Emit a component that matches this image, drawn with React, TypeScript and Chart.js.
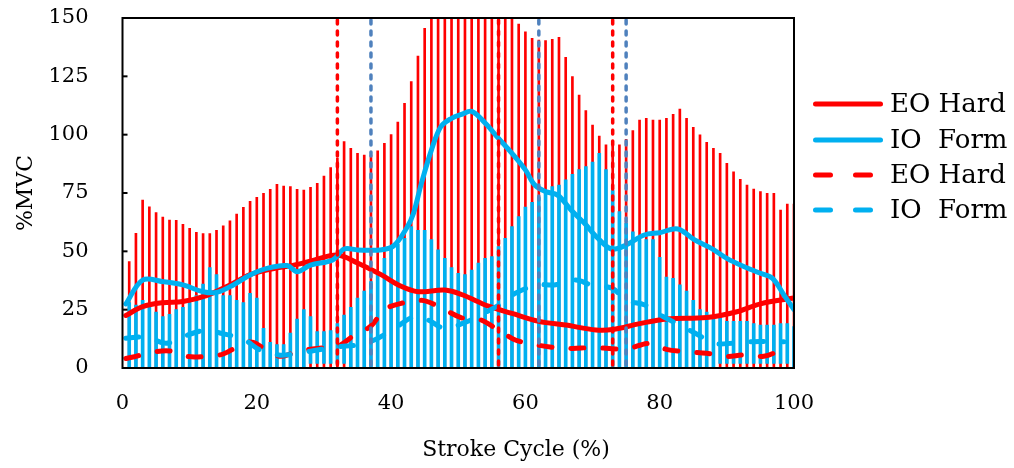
import React, { useEffect, useRef } from 'react';
import { Chart, registerables } from 'chart.js';

Chart.register(...registerables);

const FONT = '"DejaVu Serif", "Liberation Serif", serif';
const RED = '#FF0000';
const CYAN = '#00B0F0';
const MARK_BLUE = '#4F81BD';
const CLEAR = 'rgba(0,0,0,0)';

// Legend / series names
const seriesNames = ['EO Hard', 'IO  Form', 'EO Hard', 'IO  Form'];
const xTitle = 'Stroke Cycle (%)';
const yTitle = '%MVC';
const yTickValues = [0, 25, 50, 75, 100, 125, 150];

// EO Hard (solid)
const eoSolidX = [0.5, 3, 6, 9, 12.5, 16, 19, 22, 25.5, 28.5, 32, 35, 38.5, 41.5, 44, 48, 50.5, 54.5, 58, 62, 66, 70.5, 73, 77, 81, 87, 91.5, 95, 100];
const eoSolidY = [22.5, 26.3, 28, 28.5, 31, 35.6, 40, 42.3, 44.1, 46.2, 48.4, 45, 40, 35, 32.7, 33.4, 31.5, 26.5, 23.4, 20, 18.4, 16.3, 16.5, 19, 21, 21.6, 24.1, 27.5, 30];

// IO Form (solid)
const ioSolidX = [0.5, 3, 6, 9, 12, 14, 16.5, 19, 21.5, 24.5, 26, 28, 31.3, 33, 35, 38.4, 40.4, 42.3, 43.3, 44.5, 46, 47.4, 49, 50.5, 52, 54, 56, 58, 60, 61.4, 63, 64.8, 66.8, 68.8, 70.8, 72.8, 75, 77.7, 80, 82.7, 85.2, 87.7, 90, 92.6, 95, 96.8, 98.5, 100];
const ioSolidY = [27.5, 37.7, 37, 35.6, 32.7, 32.4, 35.6, 39.9, 42.7, 43.9, 41.3, 44.1, 46.3, 51, 50.6, 50.6, 52.4, 59.9, 66, 79, 93.4, 103.4, 107, 108.7, 110, 105, 98.4, 92, 84.9, 78.4, 75.6, 74.1, 67.7, 62, 55.6, 51, 52.7, 57, 58, 59.6, 54.9, 51.3, 47, 43.4, 40.6, 38.4, 31.3, 25];

// EO Hard (dashed)
const eoDashX = [0.5, 2, 4, 7, 9.5, 12.5, 15, 18, 19.5, 21, 23.5, 26, 29, 32, 34.5, 37, 39, 41.5, 44.5, 47, 50.5, 53, 56, 58.5, 61.5, 64, 67, 69.5, 72.5, 75, 78.5, 81, 84, 87, 90, 92.5, 95.5, 98.5];
const eoDashY = [4.1, 5, 6.5, 7.3, 5, 5, 6, 10.5, 11, 8.5, 5, 7, 8.4, 9.2, 14, 18, 25, 27.7, 29, 26.5, 21.5, 21, 16.3, 12, 10, 8.9, 8.4, 8.7, 8.4, 8.1, 10.6, 8, 7, 6.3, 4.9, 5.6, 5, 8.4];

// IO Form (dashed)
const ioDashX = [0.5, 3.5, 6.5, 9, 12.5, 14.5, 18, 20.5, 23.5, 26, 29, 32, 35, 37.5, 40.5, 43.5, 45.5, 48, 51.3, 53.3, 56.5, 58.5, 61.7, 64.3, 67.5, 69.8, 73, 74.9, 77.8, 80.1, 83, 85.3, 88.2, 90.8, 94, 96.6, 98.5];
const ioDashY = [12.7, 13.3, 10.6, 13.4, 16.3, 15, 12.3, 7.7, 5.5, 6.3, 7.7, 9.1, 9.9, 12, 17, 22, 20.6, 17, 19.9, 22.7, 27.7, 32, 35.6, 35.6, 37.7, 35.6, 34.1, 29.1, 27, 22.7, 18.4, 14.9, 10.6, 10.6, 11.3, 11.3, 11.3];

// Error bars at 1..100 % (EO Hard, red: 0 -> top)
const redTop = [45.6, 57.7, 72, 69.1, 66.6, 64.7, 63.4, 63.3, 61.6, 59.9,
  58.1, 57.6, 57.6, 59, 60.9, 63.1, 66, 68.9, 71.4, 73.1,
  74.9, 76.6, 78.7, 78, 77.7, 76.6, 76.3, 77.4, 79.1, 82.3,
  85.9, 90, 97, 94.1, 92, 91.3, 91, 93.1, 96.3, 100,
  105.4, 113.4, 122.7, 133.7, 145.6, 155, 160, 165, 168, 170,
  172, 172, 170, 168, 165, 162, 158, 153, 147.4, 144.1,
  141.3, 140.5, 140.3, 140.9, 141.7, 133.1, 124.9, 117, 110.3, 104.1,
  99.4, 95.6, 95, 95.6, 98, 101.7, 106.3, 107, 106.3, 106.3,
  107, 108.7, 111, 107, 103.1, 99.9, 96.7, 94.1, 92, 87.7,
  84.1, 80.9, 78.4, 76.7, 75.6, 74.9, 74.9, 67.7, 70.3, 70.3];

// Error bars (IO Form, cyan: low -> top)
const blueTop = [28, 27, 29, 27, 24, 22, 23, 25, 26, 28,
  31, 36, 43, 40, 31, 31, 29, 28, 32, 30,
  17, 11, 10, 10, 15, 21, 25, 22, 15.6, 15.6,
  16, 19, 22.7, 26, 30, 33, 37, 40, 47, 51,
  53, 55.6, 60.6, 59, 59, 55, 50.6, 47, 43, 40.6,
  40, 42, 45, 47, 47.7, 52, 55.6, 60.6, 64.9, 69,
  71, 73, 76, 77.7, 78.4, 80.6, 83, 85, 86.3, 88.2,
  92, 85, 76, 67, 62, 58.4, 55, 55, 55, 47.4,
  39, 38.4, 35.6, 33, 29, 25, 24, 22, 22, 20,
  20, 20, 20, 19, 18.4, 18.4, 18.4, 19, 19, 17.7];
const blueLow = [0, 0, 0, 0, 0, 0, 0, 0, 0, 0,
  0, 0, 0, 0, 0, 0, 0, 0, 0, 0,
  0, 0, 0, 0, 0, 0, 0, 2, 2, 2,
  2, 2, 2, 0, 0, 0, 0, 0, 0, 0,
  0, 0, 0, 0, 0, 0, 0, 0, 0, 0,
  0, 0, 0, 0, 0, 0, 0, 0, 0, 0,
  0, 0, 0, 0, 0, 0, 0, 0, 0, 0,
  0, 0, 0, 0, 0, 0, 0, 0, 0, 0,
  0, 0, 0, 0, 0, 0, 0, 0, 2, 2,
  2, 2, 2, 2, 2, 2, 2, 2, 2, 0];
const barX = redTop.map((_, i) => i + 1);

// Phase markers (vertical dashed lines)
const eoMarkers = [32, 56, 73];
const ioMarkers = [37, 62, 75];

const pts = (xs: number[], ys: number[]) => xs.map((x, i) => ({ x, y: ys[i] }));

const decorPlugin = {
  id: 'decor',
  afterDatasetsDraw(chart: any) {
    const { ctx, chartArea: a, scales } = chart;
    const xs = scales.x;
    const ys = scales.y;
    ctx.save();
    // vertical dashed phase markers
    ctx.lineWidth = 3.5;
    ctx.lineCap = 'round';
    ctx.setLineDash([4, 7]);
    const groups: [number[], string][] = [[eoMarkers, RED], [ioMarkers, MARK_BLUE]];
    for (const [vals, color] of groups) {
      ctx.strokeStyle = color;
      for (const v of vals) {
        const px = xs.getPixelForValue(v);
        ctx.beginPath();
        ctx.moveTo(px, a.top + 2);
        ctx.lineTo(px, a.bottom + 3);
        ctx.stroke();
      }
    }
    ctx.setLineDash([]);
    ctx.lineCap = 'butt';
    // frame
    ctx.strokeStyle = '#000';
    ctx.lineWidth = 2;
    ctx.strokeRect(a.left, a.top, a.right - a.left, a.bottom - a.top);
    // inward y tick marks
    for (const v of yTickValues) {
      const py = ys.getPixelForValue(v);
      ctx.beginPath();
      ctx.moveTo(a.left, py);
      ctx.lineTo(a.left + 5, py);
      ctx.stroke();
    }
    ctx.restore();
  },
  afterDraw(chart: any) {
    const { ctx } = chart;
    ctx.save();
    // x-axis title
    ctx.fillStyle = '#000';
    ctx.font = `22px ${FONT}`;
    ctx.textAlign = 'center';
    ctx.textBaseline = 'middle';
    ctx.fillText(xTitle, 516, 450);
    // legend
    const rows = [104, 140, 175, 210];
    const items = [
      { label: seriesNames[0], color: RED, dash: false },
      { label: seriesNames[1], color: CYAN, dash: false },
      { label: seriesNames[2], color: RED, dash: true },
      { label: seriesNames[3], color: CYAN, dash: true },
    ];
    items.forEach((it, i) => {
      const yRow = rows[i];
      ctx.strokeStyle = it.color;
      ctx.lineWidth = 5;
      ctx.lineCap = 'round';
      ctx.setLineDash(it.dash ? [15, 25] : []);
      ctx.beginPath();
      ctx.moveTo(815.5, yRow);
      ctx.lineTo(880.5, yRow);
      ctx.stroke();
      ctx.setLineDash([]);
      ctx.fillStyle = '#000';
      ctx.font = `26px ${FONT}`;
      ctx.textAlign = 'left';
      ctx.textBaseline = 'middle';
      ctx.fillText(it.label, 890, yRow + 1);
    });
    ctx.restore();
  },
};

export default function App() {
  const ref = useRef<HTMLCanvasElement | null>(null);

  useEffect(() => {
    document.body.style.margin = '0';
    const canvas = ref.current;
    if (!canvas) return;
    const tickFont = { family: FONT, size: 21, weight: 'normal' as const };
    const lineCommon = {
      type: 'line' as const,
      pointRadius: 0,
      borderWidth: 5,
      tension: 0.35,
      fill: false,
      borderCapStyle: 'round' as const,
      borderJoinStyle: 'round' as const,
    };
    const chart = new Chart(canvas, {
      type: 'bar',
      data: {
        datasets: [
          { ...lineCommon, label: seriesNames[3], data: pts(ioDashX, ioDashY), borderColor: CYAN, backgroundColor: CYAN, borderDash: [13, 19], order: 1 },
          { ...lineCommon, label: seriesNames[2], data: pts(eoDashX, eoDashY), borderColor: RED, backgroundColor: RED, borderDash: [13, 19], order: 2 },
          { ...lineCommon, label: seriesNames[1], data: pts(ioSolidX, ioSolidY), borderColor: CYAN, backgroundColor: CYAN, order: 3 },
          { ...lineCommon, label: seriesNames[0], data: pts(eoSolidX, eoSolidY), borderColor: RED, backgroundColor: RED, order: 4 },
          {
            type: 'bar' as const,
            label: 'IO SD',
            data: barX.map((x, i) => ({ x, y: [blueLow[i], blueTop[i]] })) as any,
            backgroundColor: CYAN,
            borderWidth: 0,
            barThickness: 3,
            grouped: false,
            order: 5,
            clip: 0 as any,
          },
          {
            type: 'bar' as const,
            label: 'EO SD',
            data: barX.map((x, i) => ({ x, y: [0, redTop[i]] })) as any,
            backgroundColor: RED,
            borderWidth: 0,
            barThickness: 2,
            grouped: false,
            order: 6,
            clip: 0 as any,
          },
        ] as any,
      },
      options: {
        animation: false,
        responsive: false,
        maintainAspectRatio: false,
        events: [],
        layout: { padding: { top: 18, right: 220, left: 0, bottom: 0 } },
        plugins: {
          legend: { display: false },
          tooltip: { enabled: false },
          title: { display: false },
        },
        scales: {
          x: {
            type: 'linear',
            min: 0,
            max: 100,
            offset: false,
            grid: { display: true, drawOnChartArea: false, drawTicks: true, tickLength: 23, tickColor: CLEAR, color: CLEAR, offset: false },
            border: { display: false },
            ticks: { stepSize: 20, padding: 0, font: tickFont, color: '#000', maxRotation: 0, autoSkip: false },
            afterFit: (s: any) => { s.height = 100; },
          },
          y: {
            type: 'linear',
            min: 0,
            max: 150,
            grid: { display: true, drawOnChartArea: false, drawTicks: true, tickLength: 34, tickColor: CLEAR, color: CLEAR },
            border: { display: false },
            ticks: { stepSize: 25, padding: 0, font: tickFont, color: '#000' },
            title: { display: true, text: yTitle, font: { family: FONT, size: 22, weight: 'normal' }, color: '#000', padding: { top: 13, bottom: 0 } },
            afterFit: (s: any) => { s.width = 122.5; },
          },
        },
      } as any,
      plugins: [decorPlugin],
    });
    return () => chart.destroy();
  }, []);

  return (
    <div style={{ position: 'absolute', left: 0, top: 0, width: 1014, height: 468, background: '#fff' }}>
      <canvas ref={ref} width={1014} height={468} style={{ display: 'block' }} />
    </div>
  );
}
